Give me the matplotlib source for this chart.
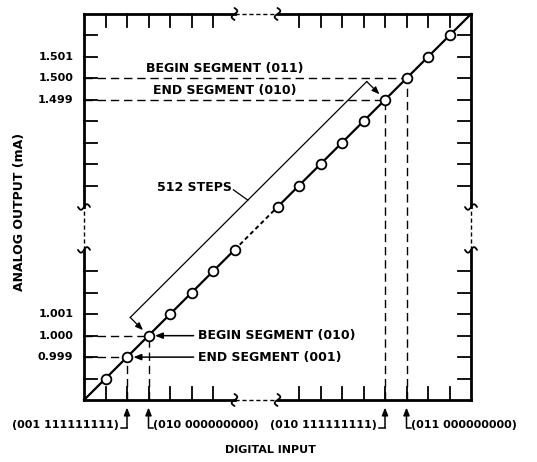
import numpy as np
import matplotlib
matplotlib.use("Agg")
import matplotlib.pyplot as plt

# steps along the transfer curve (each step = 1 LSB of the digital code)
n_steps = 18
break_lo, break_hi = 7, 9
marker_low = [1, 2, 3, 4, 5, 6, 7]
marker_high = [9, 10, 11, 12, 13, 14, 15, 16, 17]
tick_low = [1, 2, 3, 4, 5, 6]
tick_high = [10, 11, 12, 13, 14, 15, 16, 17]

# analog output labels (mA) at given steps
out_steps = [2, 3, 4, 14, 15, 16]
out_labels = ["0.999", "1.000", "1.001", "1.499", "1.500", "1.501"]

# digital codes marked on the input axis
code_steps = [2, 3, 14, 15]
code_labels = ["(001 111111111)", "(010 000000000)",
               "(010 111111111)", "(011 000000000)"]

# segment boundaries
seg_steps = [2, 3, 14, 15]
seg_labels = ["END SEGMENT (001)", "BEGIN SEGMENT (010)",
              "END SEGMENT (010)", "BEGIN SEGMENT (011)"]
steps_label = "512 STEPS"

plt.rcParams["font.family"] = ["DejaVu Sans"]
FS = 8      # numbers
FS_T = 9    # words
FW = "bold"

fig = plt.figure(figsize=(5.37, 4.62), dpi=100)
ax = fig.add_axes([0, 0, 1, 1])
# map data units onto the page: origin at (84, 400) px, 18 steps span to (471, 14)
sx = (471 - 84) / n_steps
sy = (400 - 14) / n_steps
ax.set_xlim(-84 / sx, (537 - 84) / sx)
ax.set_ylim(-(462 - 400) / sy, 400 / sy)
ax.axis("off")

AX_LW = 2.0
k = "black"


def squiggle_h(x0, y0):
    # break mark on a horizontal axis (vertical wiggle)
    t = np.linspace(-1, 1, 40)
    ax.plot(x0 + 0.13 * np.sin(np.pi * t), y0 + 0.28 * t, color=k, lw=1.3,
            solid_capstyle="round", zorder=5)


def squiggle_v(x0, y0):
    # break mark on a vertical axis (horizontal wiggle)
    t = np.linspace(-1, 1, 40)
    ax.plot(x0 + 0.28 * t, y0 + 0.13 * np.sin(np.pi * t), color=k, lw=1.3,
            solid_capstyle="round", zorder=5)


# frame with breaks
for yy in (0, n_steps):
    ax.plot([0, break_lo], [yy, yy], color=k, lw=AX_LW, solid_capstyle="projecting")
    ax.plot([break_hi, n_steps], [yy, yy], color=k, lw=AX_LW, solid_capstyle="projecting")
    ax.plot([break_lo, break_hi], [yy, yy], color=k, lw=1, ls=(0, (3, 2)))
    squiggle_h(break_lo, yy)
    squiggle_h(break_hi, yy)
for xx in (0, n_steps):
    ax.plot([xx, xx], [0, break_lo], color=k, lw=AX_LW, solid_capstyle="projecting")
    ax.plot([xx, xx], [break_hi, n_steps], color=k, lw=AX_LW, solid_capstyle="projecting")
    ax.plot([xx, xx], [break_lo, break_hi], color=k, lw=1, ls=(0, (3, 2)))
    squiggle_v(xx, break_lo)
    squiggle_v(xx, break_hi)

# inward ticks
tl = 0.62
for t in tick_low + tick_high:
    ax.plot([t, t], [0, tl], color=k, lw=1.3)
    ax.plot([t, t], [n_steps, n_steps - tl], color=k, lw=1.3)
    ax.plot([0, tl], [t, t], color=k, lw=1.3)
    ax.plot([n_steps, n_steps - tl], [t, t], color=k, lw=1.3)

# transfer curve
ax.plot([0, break_lo], [0, break_lo], color=k, lw=1.6, zorder=3)
ax.plot([break_hi, n_steps], [break_hi, n_steps], color=k, lw=1.6, zorder=3)
ax.plot([break_lo, break_hi], [break_lo, break_hi], color=k, lw=1.4,
        ls=(0, (2.2, 1.6)), zorder=3)
ax.plot(marker_low + marker_high, marker_low + marker_high, ls="none", marker="o",
        ms=7, mfc="white", mec=k, mew=1.3, zorder=4)

# dashed projections to both axes
dash = (0, (6, 3.5))
for s in seg_steps:
    ax.plot([0, s], [s, s], color=k, lw=1, ls=dash, zorder=2)
    ax.plot([s, s], [0, s], color=k, lw=1, ls=dash, zorder=2)

# output value labels
for s, lab in zip(out_steps, out_labels):
    ax.text(-0.5, s, lab, ha="right", va="center", fontsize=FS, fontweight=FW)

# code labels under the input axis with up arrows
arr = dict(arrowstyle="-|>,head_length=0.45,head_width=0.18", color=k, lw=1.1,
           shrinkA=0, shrinkB=0)
for i, (s, lab) in enumerate(zip(code_steps, code_labels)):
    ax.annotate("", xy=(s, -0.35), xytext=(s, -1.3), arrowprops=arr)
    if i % 2 == 0:
        ax.plot([s - 0.3, s], [-1.3, -1.3], color=k, lw=1.1)
        ax.text(s - 0.38, -1.15, lab, ha="right", va="center", fontsize=FS, fontweight=FW)
    else:
        ax.plot([s, s + 0.2], [-1.3, -1.3], color=k, lw=1.1)
        ax.text(s + 0.2, -1.15, lab, ha="left", va="center", fontsize=FS, fontweight=FW)

# segment annotations at the low end (arrows pointing at markers)
for s, lab in zip(seg_steps[:2], seg_labels[:2]):
    ax.annotate("", xy=(s + 0.3, s), xytext=(5.1, s), arrowprops=arr)
    ax.text(5.3, s, lab, ha="left", va="center", fontsize=FS_T, fontweight=FW)

# segment annotations at the high end (above dashed lines)
for s, lab in zip(seg_steps[2:], seg_labels[2:]):
    ax.text(6.56, s + 0.15, lab, ha="center", va="bottom", fontsize=FS_T, fontweight=FW)

# 512 steps bracket
off = 0.85
c0 = (seg_steps[1] - off, seg_steps[1] + off)
c1 = (seg_steps[2] - off, seg_steps[2] + off)
ax.plot([c0[0], c1[0]], [c0[1], c1[1]], color=k, lw=0.9)
for c, s in ((c0, seg_steps[1]), (c1, seg_steps[2])):
    ax.annotate("", xy=(s - 0.12, s + 0.12), xytext=c, arrowprops=dict(arr, lw=0.9,
                shrinkB=3))
ax.plot([6.95, 7.62], [9.8, 9.32], color=k, lw=0.9)
ax.text(6.9, 9.93, steps_label, ha="right", va="center", fontsize=FS_T, fontweight=FW)

# axis titles
ax.text(8.65, -2.33, "DIGITAL INPUT", ha="center", va="center", fontsize=FS, fontweight=FW)
ax.text(-2.98, 8.77, "ANALOG OUTPUT (mA)", ha="center", va="center", rotation=90,
        fontsize=FS_T, fontweight=FW)

fig.savefig("out.png", dpi=100)
